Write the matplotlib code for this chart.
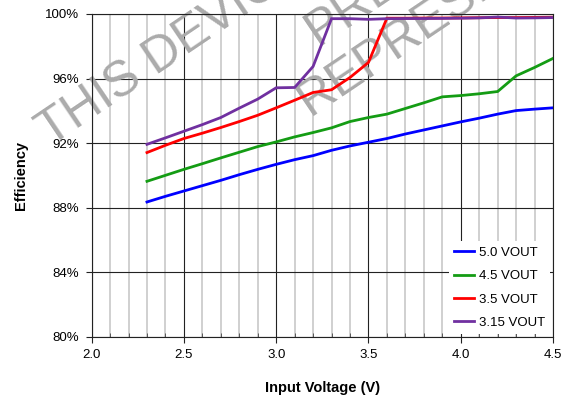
import matplotlib
matplotlib.use("Agg")
import matplotlib.pyplot as plt
from matplotlib.ticker import MultipleLocator, FuncFormatter

plt.rcParams['font.family'] = ['Liberation Sans', 'DejaVu Sans']

# input voltage (V)
vin = [2.3, 2.4, 2.5, 2.6, 2.7, 2.8, 2.9, 3.0, 3.1, 3.2, 3.3, 3.4,
       3.5, 3.6, 3.7, 3.8, 3.9, 4.0, 4.1, 4.2, 4.3, 4.4, 4.5]

# efficiency (%) per output voltage
eff_50 = [88.36, 88.71, 89.04, 89.37, 89.70, 90.05, 90.38, 90.69, 90.98, 91.23, 91.56, 91.83,
          92.06, 92.29, 92.57, 92.82, 93.07, 93.32, 93.55, 93.80, 94.02, 94.11, 94.19]
eff_45 = [89.64, 90.01, 90.38, 90.73, 91.09, 91.44, 91.79, 92.08, 92.39, 92.66, 92.95, 93.34,
          93.59, 93.80, 94.15, 94.50, 94.87, 94.95, 95.06, 95.20, 96.17, 96.69, 97.25]
eff_35 = [91.42, 91.87, 92.29, 92.62, 92.97, 93.34, 93.73, 94.19, 94.66, 95.14, 95.31, 96.07,
          97.00, 99.74, 99.74, 99.75, 99.75, 99.76, 99.77, 99.78, 99.78, 99.79, 99.80]
eff_315 = [91.93, 92.33, 92.74, 93.15, 93.59, 94.17, 94.73, 95.43, 95.45, 96.75, 99.71, 99.71,
           99.67, 99.71, 99.72, 99.72, 99.73, 99.74, 99.76, 99.81, 99.75, 99.76, 99.78]

labels = ['5.0 VOUT', '4.5 VOUT', '3.5 VOUT', '3.15 VOUT']
colors = ['#0000ff', '#149c14', '#ff0000', '#7030a0']

fig = plt.figure(figsize=(5.62, 4), dpi=100)
ax = fig.add_axes([0.163, 0.1575, 0.821, 0.8075])

for y, lab, c in zip([eff_50, eff_45, eff_35, eff_315], labels, colors):
    ax.plot(vin, y, color=c, lw=2, label=lab, zorder=3, solid_joinstyle='miter')

ax.set_xlim(2.0, 4.5)
ax.set_ylim(80, 100)
ax.xaxis.set_major_locator(MultipleLocator(0.5))
ax.xaxis.set_minor_locator(MultipleLocator(0.1))
ax.yaxis.set_major_locator(MultipleLocator(4))
ax.xaxis.set_major_formatter(FuncFormatter(lambda v, p: '%.1f' % v))
ax.yaxis.set_major_formatter(FuncFormatter(lambda v, p: '%d%%' % v))

# grid: light minor verticals, dark majors
ax.grid(which='minor', axis='x', color='#c4c4c4', lw=1.1, zorder=0)
ax.grid(which='major', axis='both', color='#222222', lw=0.8, zorder=1)
ax.set_axisbelow(True)
for s in ax.spines.values():
    s.set_color('#222222')
    s.set_linewidth(0.8)

ax.tick_params(which='major', direction='out', length=4, width=0.8,
               labelsize=9.5, color='#222222', pad=5)
ax.tick_params(which='minor', direction='in', length=3, width=0.6, color='#444444')

ax.set_xlabel('Input Voltage (V)', fontsize=10.5, fontweight='bold', labelpad=14)
ax.set_ylabel('Efficiency', fontsize=10.5, fontweight='bold', labelpad=12)

leg = ax.legend(loc='lower right', fontsize=9.5, handlelength=1.5, handletextpad=0.4,
                labelspacing=0.85, borderpad=0.4, borderaxespad=0.2,
                frameon=True, fancybox=False)
leg.get_frame().set_facecolor('white')
leg.get_frame().set_edgecolor('none')
leg.get_frame().set_alpha(1)
leg.set_zorder(5)

# watermark
wm = dict(transform=fig.transFigure, fontsize=36, color='#ababab', rotation=34,
          rotation_mode='anchor', ha='left', va='baseline', zorder=2, clip_on=False)
ax.text(50 / 562, 1 - 147 / 400, 'THIS DEVICE', **wm)
ax.text(318 / 562, 1 - 46 / 400, 'PRELIMINARY', **wm)
ax.text(310 / 562, 1 - 116 / 400, 'REPRESENT', **wm)

fig.savefig('out.png', dpi=100)
